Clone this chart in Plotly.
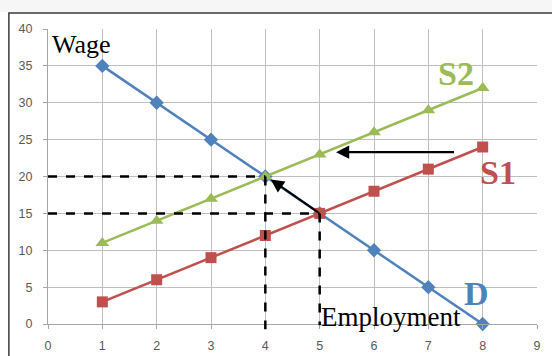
import plotly.graph_objects as go

employment = [1, 2, 3, 4, 5, 6, 7, 8]
demand = [35, 30, 25, 20, 15, 10, 5, 0]
supply1 = [3, 6, 9, 12, 15, 18, 21, 24]
supply2 = [11, 14, 17, 20, 23, 26, 29, 32]
x_ticks = [0, 1, 2, 3, 4, 5, 6, 7, 8, 9]
y_ticks = [0, 5, 10, 15, 20, 25, 30, 35, 40]

BLUE = "#4f81bd"
RED = "#c0504d"
GREEN = "#9bbb59"

# equilibria
eq1_i = [i for i in range(len(employment)) if demand[i] == supply1[i]][0]
eq2_i = [i for i in range(len(employment)) if demand[i] == supply2[i]][0]
eq1 = (employment[eq1_i], demand[eq1_i])
eq2 = (employment[eq2_i], demand[eq2_i])

fig = go.Figure()
fig.add_trace(go.Scatter(x=employment, y=demand, mode="lines+markers", name="D",
                         line=dict(color=BLUE, width=2.5),
                         marker=dict(symbol="diamond", size=11, color=BLUE),
                         cliponaxis=False))
fig.add_trace(go.Scatter(x=employment, y=supply1, mode="lines+markers", name="S1",
                         line=dict(color=RED, width=2.5),
                         marker=dict(symbol="square", size=11, color=RED),
                         cliponaxis=False))
fig.add_trace(go.Scatter(x=employment, y=supply2, mode="lines+markers", name="S2",
                         line=dict(color=GREEN, width=2.5),
                         marker=dict(symbol="triangle-up", size=12, color=GREEN),
                         cliponaxis=False))

shapes = []
dash = dict(color="black", width=2.5, dash="dash")
for (ex, ey), ybot in ((eq2, -0.018), (eq1, -0.004)):
    shapes.append(dict(type="line", xref="x", yref="y", x0=0, x1=ex, y0=ey, y1=ey, line=dash, layer="above"))
    shapes.append(dict(type="line", xref="x", yref="paper", x0=ex, x1=ex,
                       y0=ey / 40.0, y1=ybot, line=dash, layer="above"))
# frame around chart
shapes.append(dict(type="rect", xref="paper", yref="paper", x0=-0.08, x1=1.2, y0=1.054, y1=-0.3,
                   line=dict(color="#3a3a3a", width=1.5), layer="below"))
shapes.append(dict(type="rect", xref="paper", yref="paper", x0=-0.2, x1=1.2, y0=1.058, y1=1.2,
                   line=dict(width=0), fillcolor="#f6f6f6", layer="below"))
fig.update_layout(shapes=shapes)

ann = []
# arrows
ann.append(dict(x=5.3, y=23.3, ax=7.5, ay=23.3, xref="x", yref="y", axref="x", ayref="y",
                showarrow=True, arrowhead=2, arrowsize=1.2, arrowwidth=2.2, arrowcolor="black", text=""))
ann.append(dict(x=4.1, y=19.6, ax=eq1[0], ay=eq1[1], xref="x", yref="y", axref="x", ayref="y",
                showarrow=True, arrowhead=2, arrowsize=1.2, arrowwidth=2.2, arrowcolor="black", text=""))
serif = "Liberation Serif, Times New Roman, serif"
ann.append(dict(text="Wage", x=0.004, y=0.946, xref="paper", yref="paper", showarrow=False,
                font=dict(family=serif, size=26, color="black"), xanchor="left", yanchor="middle"))
ann.append(dict(text="Employment", x=4.98, y=1.0, xref="x", yref="y", showarrow=False,
                font=dict(family=serif, size=27, color="black"), xanchor="left", yanchor="middle"))
ann.append(dict(text="<b>S2</b>", x=7.5, y=33.9, xref="x", yref="y", showarrow=False,
                font=dict(family=serif, size=34, color=GREEN), xanchor="center", yanchor="middle"))
ann.append(dict(text="<b>S1</b>", x=8.28, y=20.5, xref="x", yref="y", showarrow=False,
                font=dict(family=serif, size=34, color=RED), xanchor="center", yanchor="middle"))
ann.append(dict(text="<b>D</b>", x=7.88, y=4.1, xref="x", yref="y", showarrow=False,
                font=dict(family=serif, size=34, color=BLUE), xanchor="center", yanchor="middle"))
fig.update_layout(annotations=ann)

tickfont = dict(family="Liberation Sans, Arial, sans-serif", size=12.5, color="#595959")
fig.update_xaxes(range=[0, 9], tickvals=x_ticks, showgrid=True, gridcolor="#bfbfbf", gridwidth=1,
                 showline=True, linecolor="#a6a6a6", zeroline=False, ticks="outside", ticklen=4,
                 tickcolor="#a6a6a6", tickfont=tickfont, mirror=False, ticklabelstandoff=6,
                 automargin=False)
fig.update_yaxes(range=[0, 40], tickvals=y_ticks, showgrid=True, gridcolor="#bfbfbf", gridwidth=1,
                 showline=True, linecolor="#a6a6a6", zeroline=False, ticks="outside", ticklen=4,
                 tickcolor="#a6a6a6", tickfont=tickfont, ticklabelstandoff=8, automargin=False)
fig.update_layout(template="none", width=552, height=356, margin=dict(l=48, r=15, t=29, b=32, pad=0),
                  paper_bgcolor="white", plot_bgcolor="white", showlegend=False)
fig.write_html("out.html", config={"displayModeBar": False},
               post_script="document.body.style.margin='0';document.body.style.overflow='hidden';")
